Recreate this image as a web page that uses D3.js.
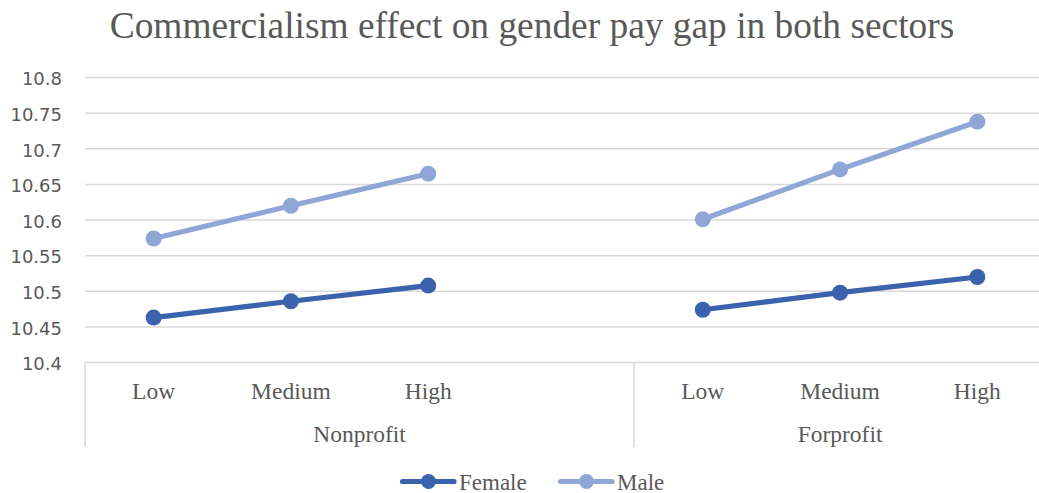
<!DOCTYPE html>
<html>
<head>
<meta charset="utf-8">
<script src="https://cdn.jsdelivr.net/npm/d3@7/dist/d3.min.js"></script>
<style>
  html, body { margin: 0; padding: 0; background: #fff; }
  svg { display: block; }
</style>
</head>
<body>
<svg id="chart" width="1039" height="493"></svg>
<script>
// ---- data ----
const title = "Commercialism effect on gender pay gap in both sectors";
const groups = ["Nonprofit", "Forprofit"];
const levels = ["Low", "Medium", "High"];
// category slots: Nonprofit has a blank 4th slot (as in the source chart)
const slots = ["N-Low", "N-Medium", "N-High", "N-blank", "F-Low", "F-Medium", "F-High"];
const slotLabels = ["Low", "Medium", "High", "", "Low", "Medium", "High"];
const nonprofitSlots = ["N-Low", "N-Medium", "N-High"];
const forprofitSlots = ["F-Low", "F-Medium", "F-High"];
const femaleNonprofit = [10.463, 10.486, 10.508];
const femaleForprofit = [10.474, 10.498, 10.520];
const maleNonprofit = [10.574, 10.620, 10.665];
const maleForprofit = [10.601, 10.671, 10.738];
const seriesNames = ["Female", "Male"];
const yTicks = [10.4, 10.45, 10.5, 10.55, 10.6, 10.65, 10.7, 10.75, 10.8];

(function () {
const colors = { Female: "#3A62AD", Male: "#8FA6D6" };

const svg = d3.select("#chart");
const W = 1039, H = 493;
const pLeft = 85, pRight = 1046, pTop = 77.5, pBottom = 362.5;

const x = d3.scaleBand().domain(slots).range([pLeft, pRight]).paddingInner(0).paddingOuter(0);
const y = d3.scaleLinear().domain([10.4, 10.8]).range([pBottom, pTop]);

const textColor = "#595959";
const serif = "'Liberation Serif', 'Times New Roman', serif";
const sans = "'DejaVu Sans', 'Open Sans', sans-serif";

// title
svg.append("text")
  .attr("x", 532).attr("y", 38)
  .attr("text-anchor", "middle")
  .attr("font-family", serif)
  .attr("font-size", 37.4)
  .attr("fill", textColor)
  .text(title);

// gridlines
svg.append("g").selectAll("line")
  .data(yTicks.slice(1))
  .join("line")
  .attr("x1", pLeft).attr("x2", W)
  .attr("y1", d => y(d)).attr("y2", d => y(d))
  .attr("stroke", "#D9D9D9").attr("stroke-width", 1.5);

// y axis labels
const yAxis = d3.axisLeft(y).tickValues(yTicks).tickSize(0).tickPadding(0)
  .tickFormat(d => String(+d.toFixed(2)));
const gy = svg.append("g").attr("transform", `translate(62,1.5)`).call(yAxis);
gy.select(".domain").remove();
gy.selectAll("text")
  .attr("font-family", sans).attr("font-size", 18).attr("fill", textColor);

// category axis box
const axisG = svg.append("g").attr("stroke", "#D9D9D9").attr("stroke-width", 1.5);
axisG.append("line").attr("x1", pLeft).attr("x2", W).attr("y1", pBottom).attr("y2", pBottom);
const dividers = [pLeft, x("F-Low")];
axisG.selectAll("line.div").data(dividers).join("line").attr("class", "div")
  .attr("x1", d => d).attr("x2", d => d).attr("y1", pBottom).attr("y2", 447);

// level labels
svg.append("g").selectAll("text")
  .data(slots.filter((s, i) => slotLabels[i] !== ""))
  .join("text")
  .attr("x", d => x(d) + x.bandwidth() / 2)
  .attr("y", 398.5)
  .attr("text-anchor", "middle")
  .attr("font-family", serif).attr("font-size", 23.5).attr("fill", textColor)
  .text(d => slotLabels[slots.indexOf(d)]);

// group labels
const groupCenters = [
  (x("N-Low") + x("N-blank") + x.bandwidth()) / 2,
  (x("F-Low") + x("F-High") + x.bandwidth()) / 2
];
svg.append("g").selectAll("text")
  .data(groups)
  .join("text")
  .attr("x", (d, i) => groupCenters[i])
  .attr("y", 441.5)
  .attr("text-anchor", "middle")
  .attr("font-family", serif).attr("font-size", 23.5).attr("fill", textColor)
  .text(d => d);

// series
const series = [
  { name: "Female", parts: [[nonprofitSlots, femaleNonprofit], [forprofitSlots, femaleForprofit]] },
  { name: "Male", parts: [[nonprofitSlots, maleNonprofit], [forprofitSlots, maleForprofit]] }
];
const line = d3.line().x(d => x(d[0]) + x.bandwidth() / 2).y(d => y(d[1]));
series.forEach(s => {
  const g = svg.append("g");
  s.parts.forEach(([cats, vals]) => {
    const pts = cats.map((c, i) => [c, vals[i]]);
    g.append("path").datum(pts)
      .attr("d", line)
      .attr("fill", "none")
      .attr("stroke", colors[s.name])
      .attr("stroke-width", 5.2)
      .attr("stroke-linecap", "round")
      .attr("stroke-linejoin", "round");
    g.selectAll(null).data(pts).join("circle")
      .attr("cx", d => x(d[0]) + x.bandwidth() / 2)
      .attr("cy", d => y(d[1]))
      .attr("r", 8)
      .attr("fill", colors[s.name]);
  });
});

// legend
const legendX = [400, 558];
const leg = svg.append("g");
seriesNames.forEach((n, i) => {
  const g = leg.append("g").attr("transform", `translate(${legendX[i]},481.5)`);
  g.append("line").attr("x1", 2.5).attr("x2", 54).attr("y1", 0).attr("y2", 0)
    .attr("stroke", colors[n]).attr("stroke-width", 5.2).attr("stroke-linecap", "round");
  g.append("circle").attr("cx", 28.5).attr("cy", 0).attr("r", 7.5).attr("fill", colors[n]);
  g.append("text").attr("x", 59).attr("y", 8)
    .attr("font-family", serif).attr("font-size", 23).attr("fill", textColor)
    .text(n);
});
})();
</script>
</body>
</html>
